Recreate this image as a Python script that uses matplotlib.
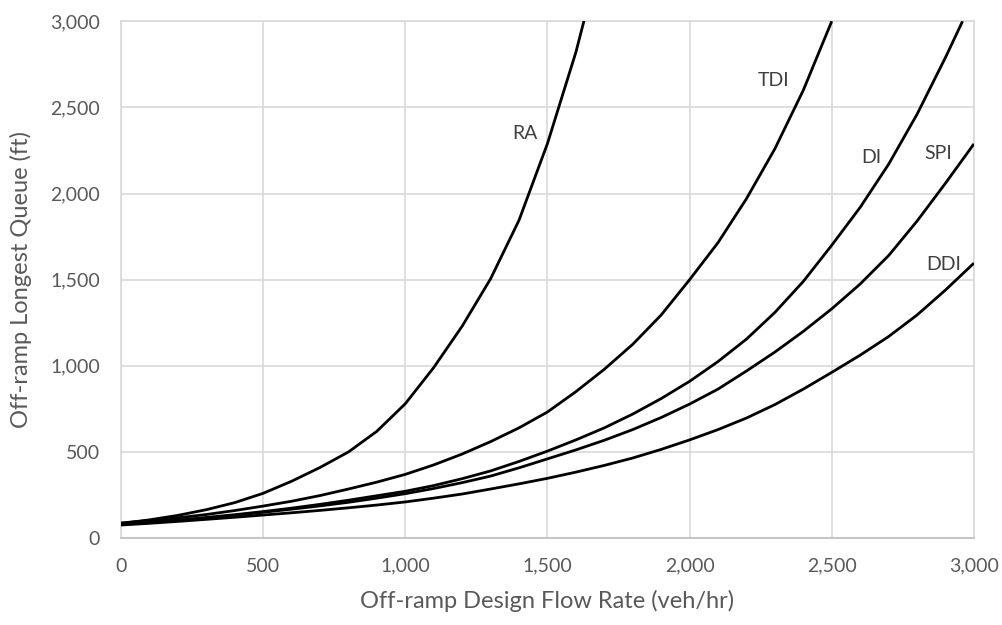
import matplotlib.pyplot as plt
from matplotlib.ticker import FuncFormatter

# values (veh/hr -> ft), every 100 veh/hr
ra_x = list(range(0, 1601, 100)) + [1650]
ra_y = [85, 106, 132, 165, 206, 260, 330, 410, 500, 620, 780, 990, 1230, 1505, 1845, 2290, 2820, 3140]

tdi_x = list(range(0, 2501, 100))
tdi_y = [88, 102, 118, 137, 160, 186, 214, 247, 285, 325, 370, 425, 488, 560, 640, 732,
         850, 980, 1125, 1295, 1500, 1715, 1970, 2260, 2600, 3000]

di_x = list(range(0, 2901, 100)) + [2960]
di_y = [82, 93, 105, 120, 136, 154, 174, 196, 220, 246, 272, 305, 345, 390, 445, 505,
        570, 640, 720, 810, 910, 1025, 1155, 1310, 1490, 1700, 1920, 2170, 2460, 2790, 3000]

spi_x = list(range(0, 3001, 100))
spi_y = [80, 90, 102, 115, 132, 150, 168, 187, 208, 232, 258, 288, 322, 360, 408, 460,
         512, 568, 630, 700, 778, 865, 970, 1080, 1200, 1331, 1475, 1640, 1840, 2060, 2288]

ddi_x = list(range(0, 3001, 100))
ddi_y = [76, 86, 97, 109, 121, 134, 147, 161, 176, 192, 210, 232, 256, 285, 315, 347,
         383, 422, 465, 515, 570, 630, 697, 775, 865, 962, 1062, 1170, 1295, 1440, 1596]

series = [
    ("RA", ra_x, ra_y, 1420, 2346),
    ("TDI", tdi_x, tdi_y, 2295, 2655),
    ("DI", di_x, di_y, 2639, 2207),
    ("SPI", spi_x, spi_y, 2874, 2234),
    ("DDI", ddi_x, ddi_y, 2894, 1590),
]

plt.rcParams["font.family"] = ["Lato", "DejaVu Sans"]

fig = plt.figure(figsize=(10.03, 6.25), dpi=100)
ax = fig.add_axes([0.1206, 0.139, 0.8504, 0.827])

for name, xs, ys, lx, ly in series:
    ax.plot(xs, ys, color="black", lw=2, solid_joinstyle="round", solid_capstyle="butt", zorder=3)
    ax.text(lx, ly, name, fontsize=14, color="#404040", ha="center", va="center")

ax.set_xlim(0, 3000)
ax.set_ylim(0, 3000)
ax.set_xticks(range(0, 3001, 500))
ax.set_yticks(range(0, 3001, 500))
fmt = FuncFormatter(lambda v, p: f"{int(v):,}")
ax.xaxis.set_major_formatter(fmt)
ax.yaxis.set_major_formatter(fmt)
ax.grid(True, color="#d9d9d9", lw=1.2)
ax.set_axisbelow(True)
for s in ax.spines.values():
    s.set_color("#d9d9d9")
    s.set_linewidth(1.2)
ax.spines["bottom"].set_color("#bfbfbf")
ax.tick_params(length=0, labelsize=14, labelcolor="#595959")
ax.tick_params(axis="x", pad=14)
ax.tick_params(axis="y", pad=15)

ax.set_xlabel("Off-ramp Design Flow Rate (veh/hr)", fontsize=17, color="#595959", labelpad=11)
ax.set_ylabel("Off-ramp Longest Queue (ft)", fontsize=17, color="#595959", labelpad=13)

fig.savefig("out.png")
